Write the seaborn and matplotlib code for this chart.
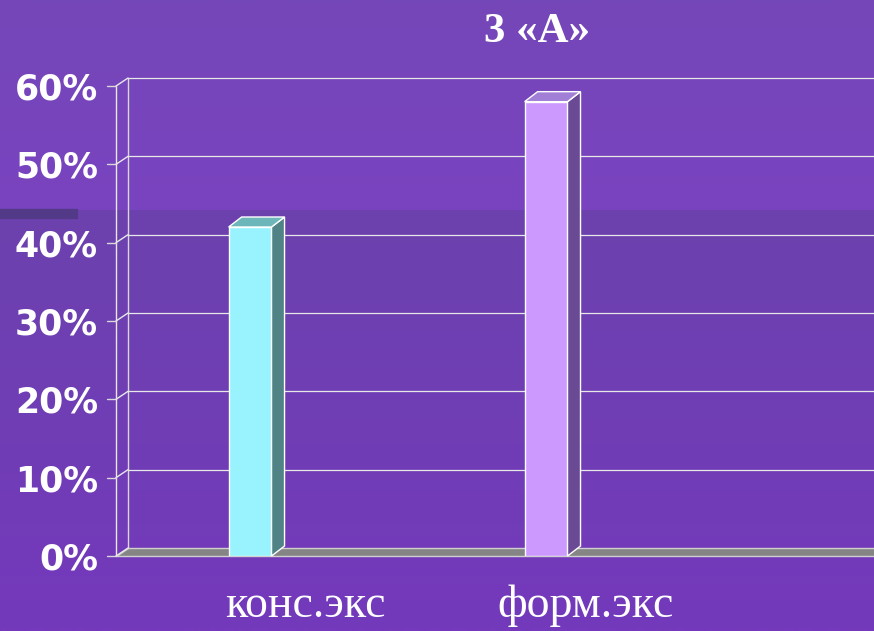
import matplotlib
matplotlib.use("Agg")
import matplotlib.pyplot as plt
import matplotlib.transforms as mtransforms
from matplotlib.colors import LinearSegmentedColormap
from matplotlib.patches import Polygon, Rectangle
from matplotlib.lines import Line2D
import numpy as np
import seaborn as sns

categories = ["конс.экс", "форм.экс"]
values = [42, 58]
front_colors = ["#99F3FF", "#CC99FF"]
top_colors = ["#6DB6BA", "#A27FD6"]
side_colors = ["#4F8385", "#6A4A94"]
yticks = [0, 10, 20, 30, 40, 50, 60]
ytick_labels = ["0%", "10%", "20%", "30%", "40%", "50%", "60%"]
title = "3 «А»"

W, H = 874, 631
bg = "#7343B8"

sns.set_style("white")
fig = plt.figure(figsize=(W / 100, H / 100), dpi=100, facecolor=bg)

# slide background: vertical gradient with a step at the band
bg_ax = fig.add_axes([0, 0, 1, 1], zorder=-10)
bg_cmap = LinearSegmentedColormap.from_list(
    "slide", [(0, "#7447B8"), (209 / H, "#7A43C0"), (210 / H, "#6C42AE"), (1, "#7439BC")])
bg_ax.imshow(np.linspace(0, 1, H).reshape(-1, 1), aspect="auto", cmap=bg_cmap,
             extent=[0, 1, 1, 0], interpolation="bilinear")
bg_ax.set_xlim(0, 1)
bg_ax.set_ylim(1, 0)
bg_ax.axis("off")
bg_ax.add_patch(Rectangle((0, 209 / H), 77 / W, 9 / H, color="#533A88"))

# front plane of the 3d chart
left, right, bottom, top = 116, 874, 556, 86
ax = fig.add_axes([left / W, 1 - bottom / H, (right - left) / W, (bottom - top) / H])
ax.set_facecolor("none")

sns.barplot(x=categories, y=values, hue=categories, palette=front_colors, width=0.145,
            legend=False, ax=ax, edgecolor="white", linewidth=1, saturation=1, zorder=3)

xmin, xmax = -0.453, 2.108
ax.set_xlim(xmin, xmax)
ax.set_ylim(0, 60)
ax.set_autoscale_on(False)
for s in ax.spines.values():
    s.set_visible(False)
ax.set_xticks([])
ax.set_xlabel("")
ax.set_yticks(yticks)
ax.set_yticklabels(ytick_labels, fontsize=25, fontweight="heavy", color="white",
                   family="DejaVu Sans")
ax.tick_params(axis="y", length=0, pad=13)

ident = mtransforms.IdentityTransform()


def disp(x, y, ox=0, oy=0):
    px, py = ax.transData.transform((x, y))
    return (px + ox, py + oy)


def line(p, q, color="white", lw=1, z=1):
    ax.add_line(Line2D([p[0], q[0]], [p[1], q[1]], transform=ident, color=color,
                       lw=lw, clip_on=False, zorder=z))


gx, gy = 12, 8

# floor
floor = [disp(xmin, 0), disp(xmax + 0.2, 0), disp(xmax + 0.2, 0, 0, gy), disp(xmin, 0, gx, gy)]
ax.add_patch(Polygon(floor, closed=True, transform=ident, facecolor="#858585",
                     edgecolor="#D0D0D0", lw=1, clip_on=False, zorder=1))

# walls, gridlines and ticks
line(disp(xmin, 0), disp(xmin, 60), color="#E8E8E8")
line(disp(xmin, 0, gx, gy), disp(xmin, 60, gx, gy), color="#D8D8D8")
for v in yticks:
    line(disp(xmin, v, -9, 0), disp(xmin, v), color="#D8D8D8")
    line(disp(xmin, v), disp(xmin, v, gx, gy), color="#E8E8E8")
    if v > 0:
        line(disp(xmin, v, gx, gy), disp(xmax + 0.2, v, gx, gy), color="#E8E8E8", lw=0.9)

# 3d tops and sides of the bars
bx, by = 13, 10
for patch, tc, sc in zip(ax.patches[:len(values)], top_colors, side_colors):
    x0 = patch.get_x()
    x1 = x0 + patch.get_width()
    h = patch.get_height()
    top_face = [disp(x0, h), disp(x1, h), disp(x1, h, bx, by), disp(x0, h, bx, by)]
    side_face = [disp(x1, 0), disp(x1, h), disp(x1, h, bx, by), disp(x1, 0, bx, by)]
    ax.add_patch(Polygon(side_face, closed=True, transform=ident, facecolor=sc,
                         edgecolor="white", lw=1, clip_on=False, zorder=3))
    ax.add_patch(Polygon(top_face, closed=True, transform=ident, facecolor=tc,
                         edgecolor="white", lw=1, clip_on=False, zorder=3))

# category labels and title
label_x = [305, 586]
for lx, cat in zip(label_x, categories):
    fig.text(lx / W, 1 - 606 / H, cat, ha="center", va="center", fontsize=33,
             color="white", family="Liberation Serif")
fig.text(537 / W, 1 - 32 / H, title, ha="center", va="center", fontsize=31,
         fontweight="bold", color="white", family="Liberation Serif")

fig.savefig("out.png", dpi=100, facecolor=bg)
